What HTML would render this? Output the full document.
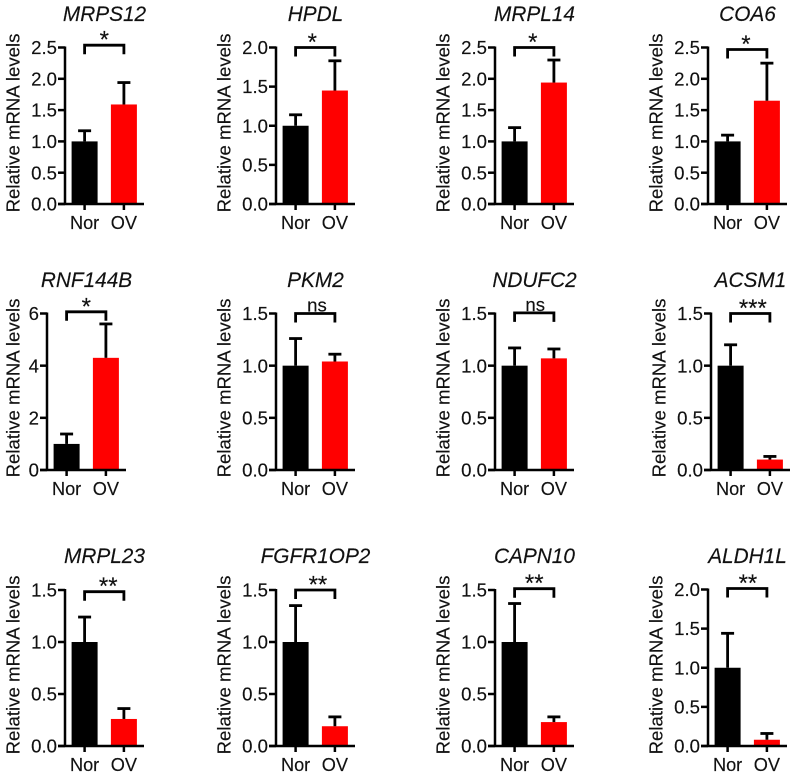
<!DOCTYPE html>
<html lang="en">
<head>
<meta charset="utf-8">
<title>Relative mRNA levels</title>
<style>
html,body{margin:0;padding:0;background:#fff;}
svg{display:block;font-family:"Liberation Sans",Arial,sans-serif;}
svg text{fill:#111;stroke:#111;stroke-width:.15px;}
</style>
</head>
<body>
<svg id="figure" xmlns="http://www.w3.org/2000/svg" width="796" height="777" viewBox="0 0 796 777"></svg>
<script>
const genes = ['MRPS12','HPDL','MRPL14','COA6','RNF144B','PKM2','NDUFC2','ACSM1','MRPL23','FGFR1OP2','CAPN10','ALDH1L'];
const categories = ['Nor','OV'];
const norValues = [1,1,1,1,1,1,1,1,1,1,1,1];
const norErrorTops = [1.17,1.14,1.22,1.1,1.38,1.26,1.17,1.2,1.24,1.35,1.37,1.44];
const ovValues = [1.59,1.45,1.94,1.65,4.3,1.04,1.07,0.1,0.26,0.19,0.23,0.08];
const ovErrorTops = [1.94,1.83,2.3,2.25,5.6,1.11,1.16,0.13,0.36,0.28,0.28,0.16];
const significance = ['*','*','*','*','*','ns','ns','***','**','**','**','**'];
const ticks25 = ['0.0','0.5','1.0','1.5','2.0','2.5'];
const ticks20 = ['0.0','0.5','1.0','1.5','2.0'];
const ticks15 = ['0.0','0.5','1.0','1.5'];
const ticks6 = ['0','2','4','6'];
const tickLabels = [ticks25,ticks20,ticks25,ticks25,ticks6,ticks15,ticks15,ticks15,ticks15,ticks15,ticks15,ticks20];

const yAxisTitle = 'Relative mRNA levels';
const colors = ['#000000','#ff0000'];
const INK = '#000';
const SVG_NS = 'http://www.w3.org/2000/svg';
const svg = document.getElementById('figure');

function columnAxisX(i){
  if (i === 4) return 47;
  if (i === 7) return 711;
  const col = i % 4;
  if (col === 0) return 65;
  if (col === 1) return 276;
  if (col === 2) return 495;
  return 708;
}
function rowOf(i){ return Math.floor(i / 4); }
function axisBottom(i){ return [204, 470, 746][rowOf(i)]; }
function axisTop(i){ return i === 11 ? 589.5 : [47.5, 313.5, 590][rowOf(i)]; }
function titleBaseline(i){ return [21, 287, 563][rowOf(i)]; }
function yTitleCenter(i){ return [123, 388, 665][rowOf(i)]; }
function yTitleX(i){ return i === 4 ? 19.5 : columnAxisX(i) - 45.5; }
function bracketNudge(gene){
  switch (gene) {
    case 'MRPS12': return -2.3;
    case 'COA6': return 2;
    case 'RNF144B': return -1.7;
    case 'NDUFC2': return -0.6;
    case 'MRPL23': return 1.7;
    case 'CAPN10': return -1.3;
    case 'ALDH1L': return -1;
    default: return 0;
  }
}
function labelNudge(gene){
  switch (gene) {
    case 'HPDL': return -3;
    case 'MRPL14': return -1.5;
    case 'COA6': return -1.3;
    case 'PKM2': return 1.7;
    case 'NDUFC2': return 1;
    case 'ACSM1': return 2.6;
    case 'MRPL23': return 4;
    case 'FGFR1OP2': return 2.7;
    case 'ALDH1L': return 0.7;
    default: return 0;
  }
}

function make(tag, attrs, text, parent){
  const el = document.createElementNS(SVG_NS, tag);
  for (const k in attrs) el.setAttribute(k, attrs[k]);
  if (text !== undefined) el.textContent = text;
  (parent || svg).appendChild(el);
  return el;
}
function line(g, x1, y1, x2, y2, w, name){
  const el = make('line', {x1, y1, x2, y2, stroke: INK, 'stroke-width': w}, undefined, g);
  
  
  return el;
}

genes.forEach(function(gene, i){
  const ax = columnAxisX(i);
  const y0 = axisBottom(i);
  const top = axisTop(i);
  const labels = tickLabels[i];
  const axisMax = parseFloat(labels[labels.length - 1]);
  const yScale = function(v){ return y0 - (v / axisMax) * (y0 - top); };
  const xCenter = function(k){ return ax + 19.6 + k * 39.3; };
  const barHalf = 13;

  const g = make('g', {});
  
  

  const title = make('text', {x: ax + 39.5, y: titleBaseline(i), 'text-anchor': 'middle', 'font-size': 20.8, 'font-style': 'italic'}, gene, g);
  
  

  const yt = make('text', {transform: 'translate(' + yTitleX(i) + ' ' + yTitleCenter(i) + ') rotate(-90)', 'text-anchor': 'middle', 'font-size': 18.6}, yAxisTitle, g);
  
  

  [norValues[i], ovValues[i]].forEach(function(v, k){
    const r = make('rect', {x: xCenter(k) - barHalf, y: yScale(v), width: barHalf * 2, height: y0 - yScale(v), fill: colors[k]}, undefined, g);
    
    
  });

  [norErrorTops[i], ovErrorTops[i]].forEach(function(t, k){
    const base = k === 0 ? norValues[i] : ovValues[i];
    line(g, xCenter(k), yScale(base), xCenter(k), yScale(t), 2.8, 'error-stem-' + categories[k].toLowerCase());
    line(g, xCenter(k) - 6.5, yScale(t), xCenter(k) + 6.5, yScale(t), 2.8, 'error-cap-' + categories[k].toLowerCase());
  });

  line(g, ax, top - 1, ax, y0 + 1, 2.5, 'y-axis-line');
  line(g, ax - 7, y0, ax + 79, y0, 2.5, 'x-axis-line');

  labels.forEach(function(label){
    const ty = yScale(parseFloat(label));
    line(g, ax - 7, ty, ax, ty, 2.5, 'y-tick');
    const t = make('text', {x: ax - 8, y: ty + 6.6, 'text-anchor': 'end', 'font-size': 18.6}, label, g);
    
    
  });

  categories.forEach(function(c, k){
    line(g, xCenter(k), y0, xCenter(k), y0 + 6, 2.5, 'x-tick');
    const t = make('text', {x: xCenter(k), y: y0 + 25, 'text-anchor': 'middle', 'font-size': 18.2}, c, g);
    
    
  });

  const by = top + bracketNudge(gene);
  const bracket = make('path', {d: 'M' + xCenter(0) + ' ' + (by + 9) + 'V' + by + 'H' + xCenter(1) + 'V' + (by + 9), fill: 'none', stroke: INK, 'stroke-width': 2.8}, undefined, g);
  
  

  const isNs = significance[i] === 'ns';
  const sigX = (xCenter(0) + xCenter(1)) / 2 + labelNudge(gene);
  const sig = make('text', {x: sigX, y: isNs ? by - 2 : by + 2.5, 'text-anchor': 'middle', 'font-size': isNs ? 18.6 : 24}, significance[i], g);
  
  
});
</script>
</body>
</html>
